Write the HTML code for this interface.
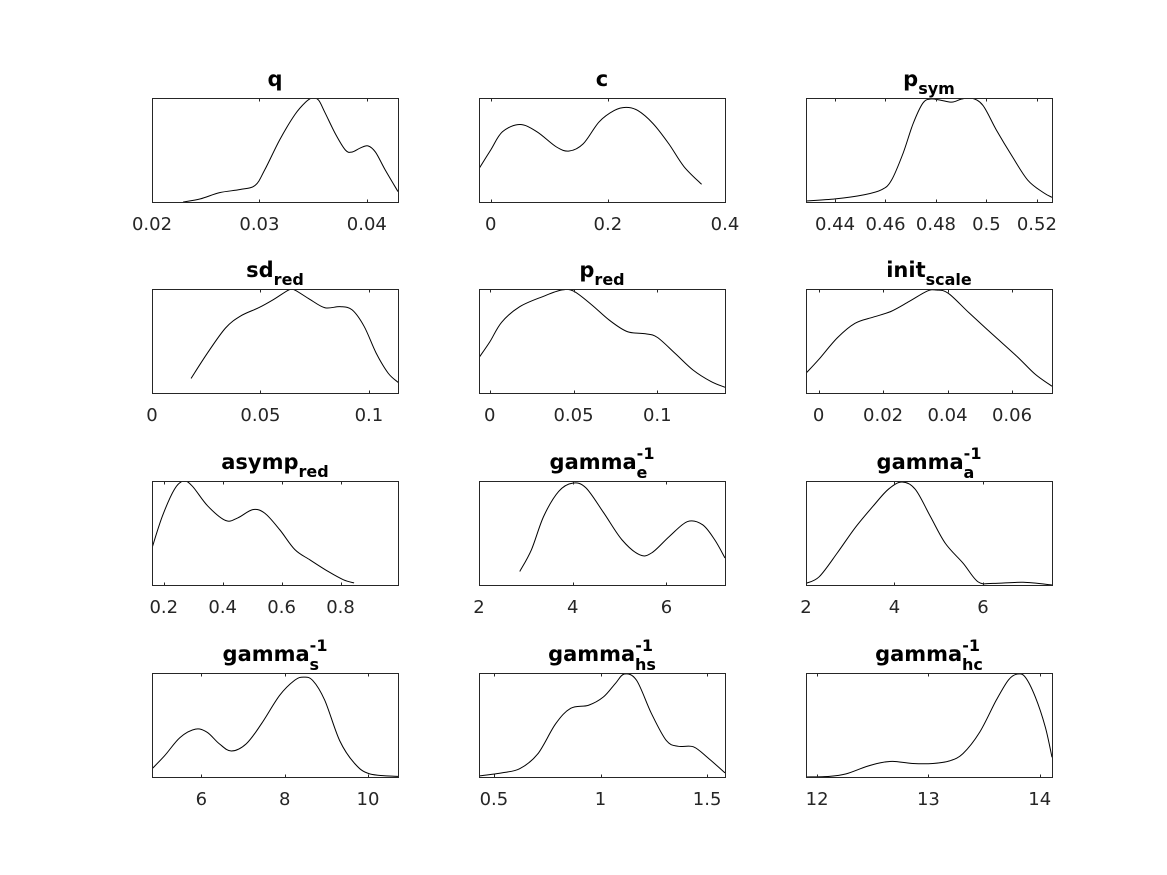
<!DOCTYPE html>
<html><head><meta charset="utf-8"><style>
html,body{margin:0;padding:0;background:#fff;}
svg{display:block;font-family:"DejaVu Sans","Liberation Sans",sans-serif;}
</style></head><body>
<svg id="fig" width="1167" height="875" viewBox="0 0 1167 875" xmlns="http://www.w3.org/2000/svg"></svg>
<script>
// ---- data (x in parameter units, y relative density) ----
const qX=[0.0229,0.0245,0.0263,0.0282,0.0296,0.0305,0.0319,0.0333,0.0343,0.0349,0.0355,0.0361,0.0371,0.0380,0.0386,0.0394,0.0401,0.0408,0.0417,0.0429];
const qY=[0,0.03,0.09,0.12,0.16,0.31,0.60,0.84,0.96,1.0,0.98,0.86,0.65,0.50,0.48,0.52,0.54,0.48,0.31,0.10];
const cX=[-0.02,0,0.02,0.05,0.079,0.112,0.134,0.158,0.185,0.211,0.231,0.251,0.277,0.304,0.33,0.36];
const cY=[0.32,0.50,0.675,0.745,0.675,0.53,0.49,0.56,0.77,0.88,0.91,0.88,0.755,0.56,0.34,0.17];
const psX=[0.4285,0.4401,0.4516,0.4586,0.4624,0.4670,0.4709,0.4748,0.4778,0.4817,0.4863,0.4902,0.4940,0.4986,0.5040,0.5102,0.5164,0.5226,0.526];
const psY=[0.01,0.03,0.07,0.12,0.21,0.47,0.75,0.95,0.99,0.98,0.96,0.99,1.0,0.93,0.69,0.44,0.21,0.09,0.045];
const sdX=[0.018,0.0256,0.0339,0.0408,0.0492,0.0561,0.063,0.0658,0.0728,0.0797,0.0867,0.0922,0.0978,0.1033,0.1089,0.1136];
const sdY=[0.14,0.385,0.625,0.74,0.82,0.90,0.99,0.99,0.90,0.82,0.83,0.80,0.64,0.385,0.19,0.10];
const prX=[-0.0064,0,0.0071,0.0179,0.0321,0.0429,0.05,0.0607,0.0714,0.0821,0.0929,0.1,0.1107,0.1214,0.1321,0.1404];
const prY=[0.34,0.49,0.68,0.83,0.93,0.99,0.98,0.85,0.70,0.59,0.57,0.535,0.38,0.22,0.11,0.055];
const isX=[-0.0039,0,0.0058,0.0113,0.017,0.0225,0.0281,0.0337,0.0365,0.0402,0.0467,0.0541,0.0616,0.0672,0.0724];
const isY=[0.19,0.32,0.53,0.67,0.73,0.785,0.88,0.98,0.99,0.96,0.77,0.56,0.35,0.18,0.065];
const arX=[0.16,0.195,0.236,0.267,0.297,0.349,0.41,0.451,0.502,0.543,0.594,0.645,0.697,0.758,0.81,0.846];
const arY=[0.355,0.66,0.92,1.0,0.95,0.76,0.62,0.645,0.725,0.69,0.53,0.34,0.24,0.13,0.05,0.02];
const geX=[2.87,3.12,3.38,3.70,4.0,4.28,4.66,5.05,5.43,5.69,6.07,6.45,6.77,7.03,7.25];
const geY=[0.13,0.34,0.66,0.90,0.98,0.935,0.695,0.435,0.29,0.31,0.47,0.61,0.58,0.435,0.26];
const gaX=[2,2.3,2.71,3.11,3.52,3.86,4.17,4.47,4.81,5.15,5.55,5.89,6.23,6.91,7.56];
const gaY=[0.016,0.08,0.31,0.55,0.76,0.92,0.99,0.92,0.66,0.40,0.21,0.03,0.016,0.026,0.0];
const gsX=[4.82,5.13,5.49,5.86,6.14,6.43,6.72,7.08,7.44,7.88,8.24,8.45,8.67,8.96,9.32,9.68,10.04,10.72];
const gsY=[0.08,0.21,0.38,0.46,0.43,0.32,0.25,0.32,0.51,0.785,0.93,0.96,0.93,0.74,0.35,0.13,0.03,0.006];
const hsX=[0.43,0.537,0.621,0.705,0.789,0.86,0.944,1.014,1.07,1.112,1.169,1.239,1.309,1.365,1.436,1.506,1.584];
const hsY=[0.01,0.04,0.08,0.22,0.51,0.66,0.69,0.77,0.90,0.99,0.93,0.61,0.35,0.295,0.29,0.18,0.04];
const hcX=[11.90,12.11,12.26,12.44,12.56,12.68,12.86,13.04,13.19,13.31,13.46,13.61,13.72,13.80,13.87,13.96,14.05,14.11];
const hcY=[0,0.006,0.03,0.10,0.135,0.15,0.13,0.13,0.155,0.225,0.43,0.74,0.935,0.99,0.96,0.77,0.48,0.19];
// tick values
const qTicks=[0.02,0.03,0.04];
const cTicks=[0,0.2,0.4];
const psTicks=[0.44,0.46,0.48,0.5,0.52];
const sdTicks=[0,0.05,0.1];
const prTicks=[0,0.05,0.1];
const isTicks=[0,0.02,0.04,0.06];
const arTicks=[0.2,0.4,0.6,0.8];
const geTicks=[2,4,6];
const gaTicks=[2,4,6];
const gsTicks=[6,8,10];
const hsTicks=[0.5,1,1.5];
const hcTicks=[12,13,14];

const NS="http://www.w3.org/2000/svg";
const svg=document.getElementById('fig');
const colX=[152,479,806], rowY=[98,289,481,673], W=246, H=104;
const panels=[
 {n:'q',b:'q',sub:'',sup:'',xs:qX,ys:qY,t:qTicks,lim:[0.02,0.0429]},
 {n:'c',b:'c',sub:'',sup:'',xs:cX,ys:cY,t:cTicks,lim:[-0.02,0.4]},
 {n:'p-sym',b:'p',sub:'sym',sup:'',xs:psX,ys:psY,t:psTicks,lim:[0.4285,0.526]},
 {n:'sd-red',b:'sd',sub:'red',sup:'',xs:sdX,ys:sdY,t:sdTicks,lim:[0,0.1134]},
 {n:'p-red',b:'p',sub:'red',sup:'',xs:prX,ys:prY,t:prTicks,lim:[-0.0064,0.1404]},
 {n:'init-scale',b:'init',sub:'scale',sup:'',xs:isX,ys:isY,t:isTicks,lim:[-0.0039,0.0724]},
 {n:'asymp-red',b:'asymp',sub:'red',sup:'',xs:arX,ys:arY,t:arTicks,lim:[0.16,0.995]},
 {n:'gamma-e',b:'gamma',sub:'e',sup:'-1',xs:geX,ys:geY,t:geTicks,lim:[2,7.25]},
 {n:'gamma-a',b:'gamma',sub:'a',sup:'-1',xs:gaX,ys:gaY,t:gaTicks,lim:[2,7.56]},
 {n:'gamma-s',b:'gamma',sub:'s',sup:'-1',xs:gsX,ys:gsY,t:gsTicks,lim:[4.816,10.72]},
 {n:'gamma-hs',b:'gamma',sub:'hs',sup:'-1',xs:hsX,ys:hsY,t:hsTicks,lim:[0.43,1.584]},
 {n:'gamma-hc',b:'gamma',sub:'hc',sup:'-1',xs:hcX,ys:hcY,t:hcTicks,lim:[11.90,14.11]}
];
function mk(tag,attrs,parent){const e=document.createElementNS(NS,tag);for(const k in attrs)e.setAttribute(k,attrs[k]);(parent||svg).appendChild(e);return e;}
function smoothPath(pts){
  let d='M'+pts[0][0].toFixed(2)+','+pts[0][1].toFixed(2);
  for(let i=0;i<pts.length-1;i++){
    const p0=pts[i-1]||pts[i],p1=pts[i],p2=pts[i+1],p3=pts[i+2]||p2;
    const c1=[p1[0]+(p2[0]-p0[0])/6,p1[1]+(p2[1]-p0[1])/6];
    const c2=[p2[0]-(p3[0]-p1[0])/6,p2[1]-(p3[1]-p1[1])/6];
    d+=' C'+c1[0].toFixed(2)+','+c1[1].toFixed(2)+' '+c2[0].toFixed(2)+','+c2[1].toFixed(2)+' '+p2[0].toFixed(2)+','+p2[1].toFixed(2);
  }
  return d;
}
panels.forEach((p,i)=>{
  const x0=colX[i%3], y0=rowY[Math.floor(i/3)];
  const sx=v=>x0+(v-p.lim[0])/(p.lim[1]-p.lim[0])*W;
  const sy=v=>y0+H-v*H;
  const g=mk('g',{});
  
  
  const clipId='clip'+i;
  const cp=mk('clipPath',{id:clipId},g);
  mk('rect',{x:x0,y:y0,width:W,height:H},cp);
  // title
  const tt=mk('text',{x:x0+W/2,y:y0-12,'text-anchor':'middle','font-size':'21','font-weight':'bold',fill:'#000'},g);
  
  
  const t1=mk('tspan',{},tt);t1.textContent=p.b;
  if(p.sup){const s=mk('tspan',{'font-size':'16',dy:'-10'},tt);s.textContent=p.sup;
    const s2=mk('tspan',{'font-size':'16',dx:'-'+(p.sup.length*9),dy:'19'},tt);s2.textContent=p.sub;}
  else if(p.sub){const s=mk('tspan',{'font-size':'16',dy:'8'},tt);s.textContent=p.sub;}
  // curve
  const pts=p.xs.map((v,k)=>[sx(v),sy(p.ys[k])]);
  const line=mk('path',{d:smoothPath(pts),fill:'none',stroke:'#000','stroke-width':'1','clip-path':'url(#'+clipId+')'},g);
  
  
  // box
  const box=mk('rect',{x:x0+0.5,y:y0+0.5,width:W,height:H,fill:'none',stroke:'#262626','stroke-width':'1'},g);
  
  
  // ticks
  p.t.forEach(v=>{
    const x=Math.round(sx(v))+0.5;
    mk('line',{x1:x,x2:x,y1:y0+H,y2:y0+H-2.5,stroke:'#262626'},g);
    mk('line',{x1:x,x2:x,y1:y0+1,y2:y0+3.5,stroke:'#262626'},g);
    const lb=mk('text',{x:sx(v),y:y0+H+28,'text-anchor':'middle','font-size':'18',fill:'#262626'},g);
    
    
    lb.textContent=String(v);
  });
});
</script>
</body></html>
